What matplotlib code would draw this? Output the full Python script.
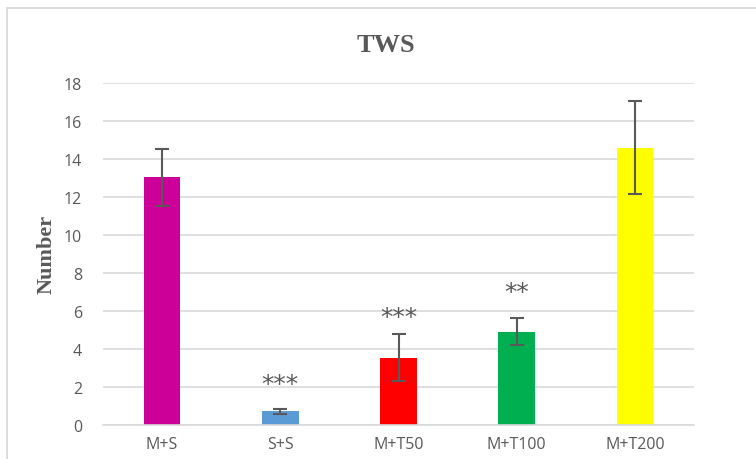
import matplotlib
matplotlib.use("Agg")
import matplotlib.pyplot as plt
from matplotlib.patches import Rectangle

categories = ["M+S", "S+S", "M+T50", "M+T100", "M+T200"]
means = [13.05, 0.73, 3.55, 4.92, 14.6]
errors = [1.5, 0.13, 1.22, 0.72, 2.45]
colors = ["#CC0099", "#5B9BD5", "#FF0000", "#00B050", "#FFFF00"]
stars = ["", "***", "***", "**", ""]
star_y = [None, 2.15, 5.7, 6.98, None]

W, H = 756, 460
fig = plt.figure(figsize=(W / 100, H / 100), dpi=100)
fig.patch.set_facecolor("white")

# chart frame
fig.patches.append(Rectangle((7 / W, -0.05), 1.2, 1 - 9 / H + 0.05,
                             transform=fig.transFigure, fill=False,
                             edgecolor="#D9D9D9", linewidth=1.3))

left, right = 103 / W, 694 / W
bottom, top = 1 - 426 / H, 1 - 84 / H
ax = fig.add_axes([left, bottom, right - left, top - bottom])

x = range(len(categories))
ax.bar(x, means, width=0.31, color=colors, zorder=2)
ax.errorbar(x, means, yerr=errors, fmt="none", ecolor="#595959",
            elinewidth=1.5, capsize=5, capthick=1.5, zorder=3)

for i, (s, y) in enumerate(zip(stars, star_y)):
    if s:
        ax.text(i, y, s, ha="center", va="center", fontsize=18,
                color="#595959", family="DejaVu Sans")

ax.set_xlim(-0.5, len(categories) - 0.5)
ax.set_ylim(0, 18)
ax.set_yticks(range(0, 19, 2))
ax.set_xticks(list(x))
ax.set_xticklabels(categories)
ax.grid(axis="y", color="#D9D9D9", linewidth=1.2, zorder=0)
ax.set_axisbelow(True)
for sp in ["top", "right", "left"]:
    ax.spines[sp].set_visible(False)
ax.spines["bottom"].set_color("#D9D9D9")
ax.spines["bottom"].set_linewidth(1.2)
ax.tick_params(axis="both", length=0, labelsize=11.5, labelcolor="#595959")
ax.tick_params(axis="y", pad=15)
ax.tick_params(axis="x", pad=8)
for lab in ax.get_xticklabels() + ax.get_yticklabels():
    lab.set_family("Open Sans")

fig.text(386 / W, 1 - 45 / H, "TWS", ha="center", va="center",
         fontsize=19, fontweight="bold", color="#595959",
         family="Liberation Serif")
fig.text(47 / W, 1 - 254 / H, "Number", ha="center", va="center",
         rotation=90, fontsize=16, fontweight="bold", color="#595959",
         family="Liberation Serif")

fig.savefig("out.png", dpi=100)
